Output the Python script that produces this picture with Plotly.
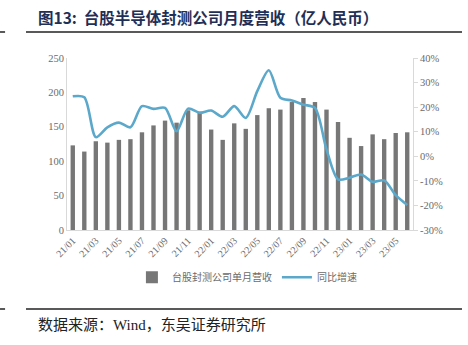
import plotly.graph_objects as go

# Monthly data, Jan 2021 - Jun 2023
months = [
    "21/01", "21/02", "21/03", "21/04", "21/05", "21/06", "21/07", "21/08", "21/09", "21/10",
    "21/11", "21/12", "22/01", "22/02", "22/03", "22/04", "22/05", "22/06", "22/07", "22/08",
    "22/09", "22/10", "22/11", "22/12", "23/01", "23/02", "23/03", "23/04", "23/05", "23/06",
]
revenue = [
    123, 114, 129, 127, 131, 132, 142, 152, 159, 156,
    174, 172, 146, 131, 155, 147, 167, 177, 175, 186,
    192, 186, 175, 157, 134, 122, 139, 132, 141, 142,
]
yoy = [
    24.4, 24.0, 7.8, 11.8, 13.7, 11.8, 20.4, 19.3, 19.7, 10.2,
    19.4, 17.7, 18.6, 16.1, 20.4, 15.6, 26.5, 35.0, 23.8, 22.7,
    21.0, 19.7, 2.8, -9.4, -8.7, -7.4, -10.4, -9.8, -15.8, -19.8,
]
x_ticks = months[::2]
left_ticks = [0, 50, 100, 150, 200, 250]
right_ticks = [-30, -20, -10, 0, 10, 20, 30, 40]
right_labels = [f"{v}%" for v in right_ticks]

serif = "Liberation Serif, Noto Sans CJK SC, serif"
cjk = "Noto Sans CJK SC, sans-serif"
grey_text = "#6b6b6b"
axis_line = "#d9d9d9"

fig = go.Figure()
fig.add_trace(go.Bar(
    x=months, y=revenue, name="台股封测公司单月营收",
    marker=dict(color="#777777", line=dict(width=0)),
))
fig.add_trace(go.Scatter(
    x=months, y=yoy, name="同比增速", yaxis="y2", mode="lines",
    line=dict(color="#5ba8ca", width=2.6, shape="spline", smoothing=0.8),
))

fig.update_layout(
    width=468, height=345,
    margin=dict(l=67, r=55, t=58, b=115),
    paper_bgcolor="white", plot_bgcolor="white",
    bargap=0.62,
    showlegend=True,
    legend=dict(
        orientation="h", x=0.52, xanchor="center", y=-0.19, yanchor="top",
        font=dict(family=cjk, size=10, color=grey_text),
        itemwidth=30,
    ),
    xaxis=dict(
        type="category", tickvals=x_ticks, ticktext=x_ticks, tickangle=-45,
        showline=True, linecolor=axis_line, linewidth=1,
        ticks="", showgrid=False,
        tickfont=dict(family=serif, size=10, color=grey_text),
    ),
    yaxis=dict(
        range=[0, 250], tickvals=left_ticks, showgrid=False, zeroline=False,
        showline=True, linecolor=axis_line, linewidth=1, ticks="",
        tickfont=dict(family=serif, size=10.5, color=grey_text),
    ),
    yaxis2=dict(
        range=[-30, 40], tickvals=right_ticks, ticktext=right_labels,
        overlaying="y", side="right", showgrid=False, zeroline=False,
        showline=True, linecolor=axis_line, linewidth=1,
        ticks="outside", ticklen=4, tickcolor=axis_line,
        tickfont=dict(family=serif, size=10.5, color=grey_text),
    ),
    font=dict(family=cjk, color=grey_text),
)

# Page title and source lines
fig.add_annotation(
    text="<b>图13:  台股半导体封测公司月度营收（亿人民币）</b>",
    xref="paper", yref="paper", x=-0.09, y=1.238, xanchor="left", yanchor="middle",
    showarrow=False, font=dict(family=cjk, size=15.5, color="#1f2f57"),
)
fig.add_annotation(
    text="数据来源：Wind，东吴证券研究所",
    xref="paper", yref="paper", x=-0.09, y=-0.552, xanchor="left", yanchor="middle",
    showarrow=False, font=dict(family=serif, size=15, color="#222222"),
)
for yy in (1.1512, -0.4593):
    fig.add_shape(type="line", xref="paper", yref="paper", x0=-0.1185, x1=1.1416,
                  y0=yy, y1=yy, line=dict(color="#222222", width=1.5))
    fig.add_shape(type="line", xref="paper", yref="paper", x0=-0.1936, x1=-0.179,
                  y0=yy, y1=yy, line=dict(color="#222222", width=1.5))

fig.write_html("out.html")
